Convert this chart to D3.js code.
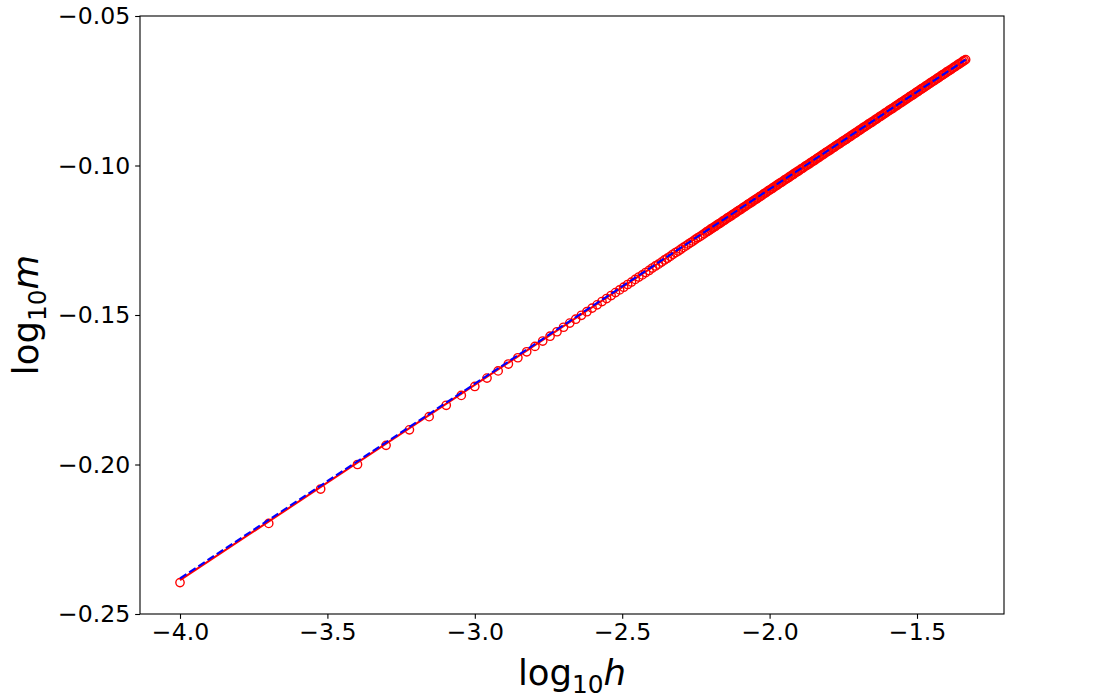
<!DOCTYPE html>
<html>
<head>
<meta charset="utf-8">
<script src="https://cdn.jsdelivr.net/npm/d3@7"></script>
<style>
  html, body { margin: 0; padding: 0; background: #fff; }
  svg { display: block; }
  text { font-family: "DejaVu Sans", sans-serif; fill: #000; }
</style>
</head>
<body>
<svg id="chart" width="1116" height="699"></svg>
<script>
// log10 h of the plotted points (sparse part, then dense part)
const logH = [
  -4, -3.699, -3.5229, -3.3979, -3.301, -3.2218, -3.1549, -3.0969, -3.0458, -3,
  -2.9586, -2.9208, -2.8861, -2.8539, -2.8239, -2.7959, -2.7696, -2.7447, -2.7212, -2.699,
  -2.6778, -2.6576, -2.6383, -2.6198, -2.6021, -2.585, -2.5686, -2.5528, -2.5376, -2.5229,
  -2.5086, -2.4949, -2.4815, -2.4685, -2.4559, -2.4437, -2.4318, -2.4202, -2.4089, -2.3979,
  -2.3872, -2.3768, -2.3665, -2.3565, -2.3468, -2.3372, -2.3279, -2.3188, -2.3098, -2.301,
  -2.2924, -2.284, -2.2757, -2.2676, -2.2596, -2.2518, -2.2441, -2.2366, -2.2291, -2.2218,
  -2.215,-2.21,-2.205,-2.2,-2.195,-2.19,-2.185,-2.18,-2.175,-2.17,
  -2.165,-2.16,-2.155,-2.15,-2.145,-2.14,-2.135,-2.13,-2.125,-2.12,
  -2.115,-2.11,-2.105,-2.1,-2.095,-2.09,-2.085,-2.08,-2.075,-2.07,
  -2.065,-2.06,-2.055,-2.05,-2.045,-2.04,-2.035,-2.03,-2.025,-2.02,
  -2.015,-2.01,-2.005,-2.0,-1.995,-1.99,-1.985,-1.98,-1.975,-1.97,
  -1.965,-1.96,-1.955,-1.95,-1.945,-1.94,-1.935,-1.93,-1.925,-1.92,
  -1.915,-1.91,-1.905,-1.9,-1.895,-1.89,-1.885,-1.88,-1.875,-1.87,
  -1.865,-1.86,-1.855,-1.85,-1.845,-1.84,-1.835,-1.83,-1.825,-1.82,
  -1.815,-1.81,-1.805,-1.8,-1.795,-1.79,-1.785,-1.78,-1.775,-1.77,
  -1.765,-1.76,-1.755,-1.75,-1.745,-1.74,-1.735,-1.73,-1.725,-1.72,
  -1.715,-1.71,-1.705,-1.7,-1.695,-1.69,-1.685,-1.68,-1.675,-1.67,
  -1.665,-1.66,-1.655,-1.65,-1.645,-1.64,-1.635,-1.63,-1.625,-1.62,
  -1.615,-1.61,-1.605,-1.6,-1.595,-1.59,-1.585,-1.58,-1.575,-1.57,
  -1.565,-1.56,-1.555,-1.55,-1.545,-1.54,-1.535,-1.53,-1.525,-1.52,
  -1.515,-1.51,-1.505,-1.5,-1.495,-1.49,-1.485,-1.48,-1.475,-1.47,
  -1.465,-1.46,-1.455,-1.45,-1.445,-1.44,-1.435,-1.43,-1.425,-1.42,
  -1.415,-1.41,-1.405,-1.4,-1.395,-1.39,-1.385,-1.38,-1.375,-1.37,
  -1.365,-1.36,-1.355,-1.35,-1.345,-1.34,-1.335
];
// log10 m of the plotted points
const logM = [
  -0.2395, -0.2197, -0.2082, -0.2000, -0.1936, -0.1884, -0.1840, -0.1802, -0.1769, -0.1739,
  -0.1711, -0.1687, -0.1664, -0.1643, -0.1623, -0.1605, -0.1587, -0.1571, -0.1556, -0.1541,
  -0.1527, -0.1514, -0.1501, -0.1489, -0.1477, -0.1466, -0.1455, -0.1445, -0.1435, -0.1425,
  -0.1416, -0.1407, -0.1398, -0.1390, -0.1381, -0.1373, -0.1366, -0.1358, -0.1351, -0.1343,
  -0.1336, -0.1330, -0.1323, -0.1316, -0.1310, -0.1304, -0.1297, -0.1291, -0.1286, -0.1280,
  -0.1274, -0.1269, -0.1263, -0.1258, -0.1253, -0.1247, -0.1242, -0.1238, -0.1233, -0.1228,
  -0.1223,-0.1220,-0.1217,-0.1213,-0.1210,-0.1207,-0.1204,-0.1200,-0.1197,-0.1194,
  -0.1191,-0.1187,-0.1184,-0.1181,-0.1177,-0.1174,-0.1171,-0.1168,-0.1164,-0.1161,
  -0.1158,-0.1154,-0.1151,-0.1148,-0.1145,-0.1141,-0.1138,-0.1135,-0.1131,-0.1128,
  -0.1125,-0.1122,-0.1118,-0.1115,-0.1112,-0.1109,-0.1105,-0.1102,-0.1099,-0.1095,
  -0.1092,-0.1089,-0.1085,-0.1082,-0.1079,-0.1076,-0.1072,-0.1069,-0.1066,-0.1062,
  -0.1059,-0.1056,-0.1053,-0.1049,-0.1046,-0.1043,-0.1040,-0.1036,-0.1033,-0.1030,
  -0.1026,-0.1023,-0.1020,-0.1017,-0.1013,-0.1010,-0.1007,-0.1003,-0.1000,-0.0997,
  -0.0994,-0.0990,-0.0987,-0.0984,-0.0981,-0.0977,-0.0974,-0.0971,-0.0967,-0.0964,
  -0.0961,-0.0957,-0.0954,-0.0951,-0.0948,-0.0944,-0.0941,-0.0938,-0.0934,-0.0931,
  -0.0928,-0.0925,-0.0921,-0.0918,-0.0915,-0.0912,-0.0908,-0.0905,-0.0902,-0.0898,
  -0.0895,-0.0892,-0.0889,-0.0885,-0.0882,-0.0879,-0.0875,-0.0872,-0.0869,-0.0866,
  -0.0862,-0.0859,-0.0856,-0.0853,-0.0849,-0.0846,-0.0843,-0.0839,-0.0836,-0.0833,
  -0.0830,-0.0826,-0.0823,-0.0820,-0.0816,-0.0813,-0.0810,-0.0807,-0.0803,-0.0800,
  -0.0797,-0.0793,-0.0790,-0.0787,-0.0784,-0.0780,-0.0777,-0.0774,-0.0770,-0.0767,
  -0.0764,-0.0761,-0.0757,-0.0754,-0.0751,-0.0747,-0.0744,-0.0741,-0.0738,-0.0734,
  -0.0731,-0.0728,-0.0724,-0.0721,-0.0718,-0.0715,-0.0711,-0.0708,-0.0705,-0.0701,
  -0.0698,-0.0695,-0.0692,-0.0688,-0.0685,-0.0682,-0.0679,-0.0675,-0.0672,-0.0669,
  -0.0665,-0.0662,-0.0659,-0.0656,-0.0652,-0.0649,-0.0646
];
// fitted lines (endpoints)
const fitX = [-4, -1.335];
const fitRedY = [-0.2387, -0.0646];
const fitBlueY = [-0.2381, -0.0646];
// ticks
const xTicks = [-4.0, -3.5, -3.0, -2.5, -2.0, -1.5];
const yTicks = [-0.25, -0.20, -0.15, -0.10, -0.05];

const svg = d3.select("#chart");
const L = 140, R = 1004, T = 16, B = 614;
const x = d3.scaleLinear().domain([-4.1357, -1.2049]).range([L, R]);
const y = d3.scaleLinear().domain([-0.25, -0.05]).range([B, T]);

const fmtX = d => d3.format(".1f")(d).replace("-", "\u2212");
const fmtY = d => d3.format(".2f")(d).replace("-", "\u2212");

svg.append("defs").append("clipPath").attr("id", "clip")
  .append("rect").attr("x", L).attr("y", T).attr("width", R - L).attr("height", B - T);

const plot = svg.append("g").attr("clip-path", "url(#clip)");

const pts = logH.map((h, i) => ({ h, m: logM[i] }));
plot.selectAll("circle").data(pts).enter().append("circle")
  .attr("cx", d => x(d.h)).attr("cy", d => y(d.m)).attr("r", 4.17)
  .attr("fill", "none").attr("stroke", "#ff0000").attr("stroke-width", 1.39);

const line = d3.line().x(d => x(d[0])).y(d => y(d[1]));
plot.append("path").datum(fitX.map((v, i) => [v, fitRedY[i]]))
  .attr("d", line).attr("fill", "none").attr("stroke", "#ff0000").attr("stroke-width", 2.08);
plot.append("path").datum(fitX.map((v, i) => [v, fitBlueY[i]]))
  .attr("d", line).attr("fill", "none").attr("stroke", "#0000ff").attr("stroke-width", 2.08)
  .attr("stroke-dasharray", "7.7,3.3");

const xAxis = d3.axisBottom(x).tickValues(xTicks).tickFormat(fmtX).tickSize(4.86).tickPadding(4.86);
const yAxis = d3.axisLeft(y).tickValues(yTicks).tickFormat(fmtY).tickSize(4.86).tickPadding(4.86);

const gx = svg.append("g").attr("transform", `translate(0,${B})`).call(xAxis);
const gy = svg.append("g").attr("transform", `translate(${L},0)`).call(yAxis);
[gx, gy].forEach(g => {
  g.select(".domain").remove();
  g.selectAll(".tick line").attr("stroke", "#000").attr("stroke-width", 1.1);
  g.selectAll(".tick text").attr("font-family", "DejaVu Sans").attr("font-size", 23.6).attr("fill", "#000");
});

svg.append("rect").attr("x", L).attr("y", T).attr("width", R - L).attr("height", B - T)
  .attr("fill", "none").attr("stroke", "#000").attr("stroke-width", 1.1);

const xl = svg.append("text").attr("x", (L + R) / 2).attr("y", 685)
  .attr("text-anchor", "middle").attr("font-size", 35.5);
xl.append("tspan").text("log");
xl.append("tspan").attr("font-size", 24.8).attr("dy", 7.5).text("10");
xl.append("tspan").attr("dy", -7.5).attr("font-style", "italic").text("h");

const yl = svg.append("text").attr("transform", `translate(38,${(T + B) / 2}) rotate(-90)`)
  .attr("text-anchor", "middle").attr("font-size", 35.5);
yl.append("tspan").text("log");
yl.append("tspan").attr("font-size", 24.8).attr("dy", 7.5).text("10");
yl.append("tspan").attr("dy", -7.5).attr("font-style", "italic").text("m");
</script>
</body>
</html>
